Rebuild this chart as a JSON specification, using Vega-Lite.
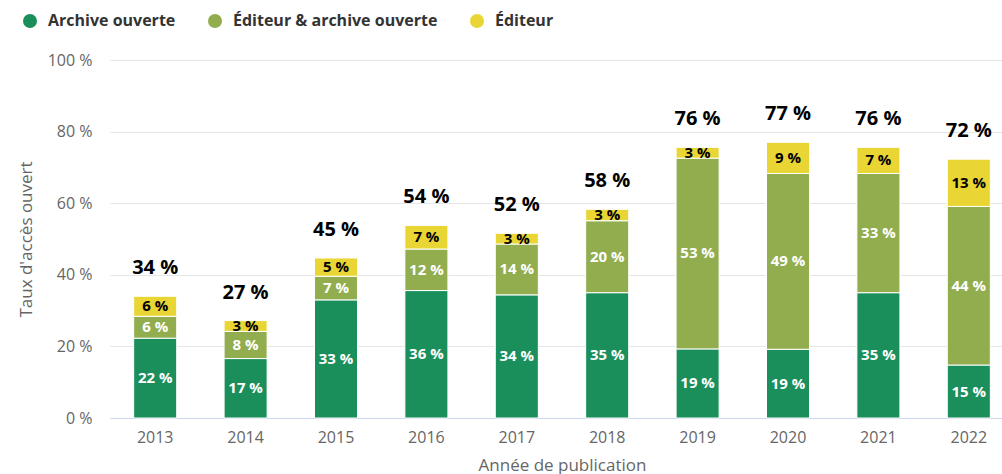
{
  "$schema": "https://vega.github.io/schema/vega-lite/v6.json",
  "autosize": {"type": "none"},
  "padding": {"left": 110, "top": 60, "right": 0, "bottom": 56},
  "width": 904,
  "height": 358,
  "config": {
    "locale": {"number": {"decimal": ",", "thousands": " ", "grouping": [3], "currency": ["", " €"], "percent": " %"}},
    "view": {"stroke": null},
    "font": "Open Sans"
  },
  "data": {"values": [
    {"year": "2013", "s": "Archive ouverte", "k": 1, "v": 0.223},
    {"year": "2013", "s": "Éditeur & archive ouverte", "k": 2, "v": 0.061},
    {"year": "2013", "s": "Éditeur", "k": 3, "v": 0.056},
    {"year": "2014", "s": "Archive ouverte", "k": 1, "v": 0.166},
    {"year": "2014", "s": "Éditeur & archive ouverte", "k": 2, "v": 0.076},
    {"year": "2014", "s": "Éditeur", "k": 3, "v": 0.030},
    {"year": "2015", "s": "Archive ouverte", "k": 1, "v": 0.330},
    {"year": "2015", "s": "Éditeur & archive ouverte", "k": 2, "v": 0.066},
    {"year": "2015", "s": "Éditeur", "k": 3, "v": 0.051},
    {"year": "2016", "s": "Archive ouverte", "k": 1, "v": 0.356},
    {"year": "2016", "s": "Éditeur & archive ouverte", "k": 2, "v": 0.116},
    {"year": "2016", "s": "Éditeur", "k": 3, "v": 0.066},
    {"year": "2017", "s": "Archive ouverte", "k": 1, "v": 0.344},
    {"year": "2017", "s": "Éditeur & archive ouverte", "k": 2, "v": 0.142},
    {"year": "2017", "s": "Éditeur", "k": 3, "v": 0.030},
    {"year": "2018", "s": "Archive ouverte", "k": 1, "v": 0.350},
    {"year": "2018", "s": "Éditeur & archive ouverte", "k": 2, "v": 0.201},
    {"year": "2018", "s": "Éditeur", "k": 3, "v": 0.032},
    {"year": "2019", "s": "Archive ouverte", "k": 1, "v": 0.193},
    {"year": "2019", "s": "Éditeur & archive ouverte", "k": 2, "v": 0.533},
    {"year": "2019", "s": "Éditeur", "k": 3, "v": 0.030},
    {"year": "2020", "s": "Archive ouverte", "k": 1, "v": 0.192},
    {"year": "2020", "s": "Éditeur & archive ouverte", "k": 2, "v": 0.491},
    {"year": "2020", "s": "Éditeur", "k": 3, "v": 0.087},
    {"year": "2021", "s": "Archive ouverte", "k": 1, "v": 0.350},
    {"year": "2021", "s": "Éditeur & archive ouverte", "k": 2, "v": 0.333},
    {"year": "2021", "s": "Éditeur", "k": 3, "v": 0.073},
    {"year": "2022", "s": "Archive ouverte", "k": 1, "v": 0.148},
    {"year": "2022", "s": "Éditeur & archive ouverte", "k": 2, "v": 0.443},
    {"year": "2022", "s": "Éditeur", "k": 3, "v": 0.132}
  ]},
  "transform": [
    {"stack": "v", "groupby": ["year"], "sort": [{"field": "k", "order": "ascending"}], "as": ["y0", "y1"]},
    {"calculate": "(datum.y0 + datum.y1) / 2", "as": "ym"}
  ],
  "encoding": {
    "x": {
      "field": "year", "type": "ordinal",
      "scale": {"paddingInner": 0.524, "paddingOuter": 0.262},
      "axis": {
        "labelAngle": 0, "ticks": false, "domainColor": "#ccd6eb", "domainWidth": 1,
        "labelFontSize": 16, "labelColor": "#666666", "labelPadding": 11,
        "title": "Année de publication", "titleFontSize": 17, "titleColor": "#666666",
        "titleFontWeight": "normal", "titlePadding": 12
      }
    }
  },
  "layer": [
    {
      "mark": {"type": "bar", "stroke": "#ffffff", "strokeWidth": 1},
      "encoding": {
        "y": {
          "field": "y0", "type": "quantitative",
          "scale": {"domain": [0, 1], "nice": false},
          "axis": {
            "values": [0, 0.2, 0.4, 0.6, 0.8, 1], "format": ".0%",
            "grid": true, "gridColor": "#e6e6e6", "domain": false, "ticks": false,
            "labelFontSize": 16, "labelColor": "#666666", "labelPadding": 18,
            "title": "Taux d'accès ouvert", "titleFontSize": 17, "titleColor": "#666666",
            "titleFontWeight": "normal", "titlePadding": 12
          }
        },
        "y2": {"field": "y1"},
        "color": {
          "field": "s", "type": "nominal",
          "scale": {
            "domain": ["Archive ouverte", "Éditeur & archive ouverte", "Éditeur"],
            "range": ["#1a8f5b", "#91ad4e", "#e9d534"]
          },
          "legend": {
            "title": null, "orient": "none", "direction": "horizontal",
            "legendX": -88, "legendY": -47,
            "symbolType": "circle", "symbolSize": 196, "symbolStrokeWidth": 0,
            "labelFontSize": 16, "labelFontWeight": "bold", "labelColor": "#333333",
            "labelOffset": 10, "columnPadding": 31, "labelLimit": 400
          }
        }
      }
    },
    {
      "mark": {"type": "text", "fontSize": 15, "fontWeight": "bold", "baseline": "middle", "align": "center"},
      "encoding": {
        "y": {"field": "ym", "type": "quantitative"},
        "text": {"field": "v", "type": "quantitative", "format": ".0%"},
        "color": {"condition": {"test": "datum.k == 3", "value": "#000000"}, "value": "#ffffff"}
      }
    },
    {
      "transform": [{"aggregate": [{"op": "sum", "field": "v", "as": "total"}], "groupby": ["year"]}],
      "mark": {"type": "text", "fontSize": 20, "fontWeight": "bold", "baseline": "alphabetic", "align": "center", "dy": -22, "color": "#000000"},
      "encoding": {
        "y": {"field": "total", "type": "quantitative"},
        "text": {"field": "total", "type": "quantitative", "format": ".0%"}
      }
    }
  ]
}
